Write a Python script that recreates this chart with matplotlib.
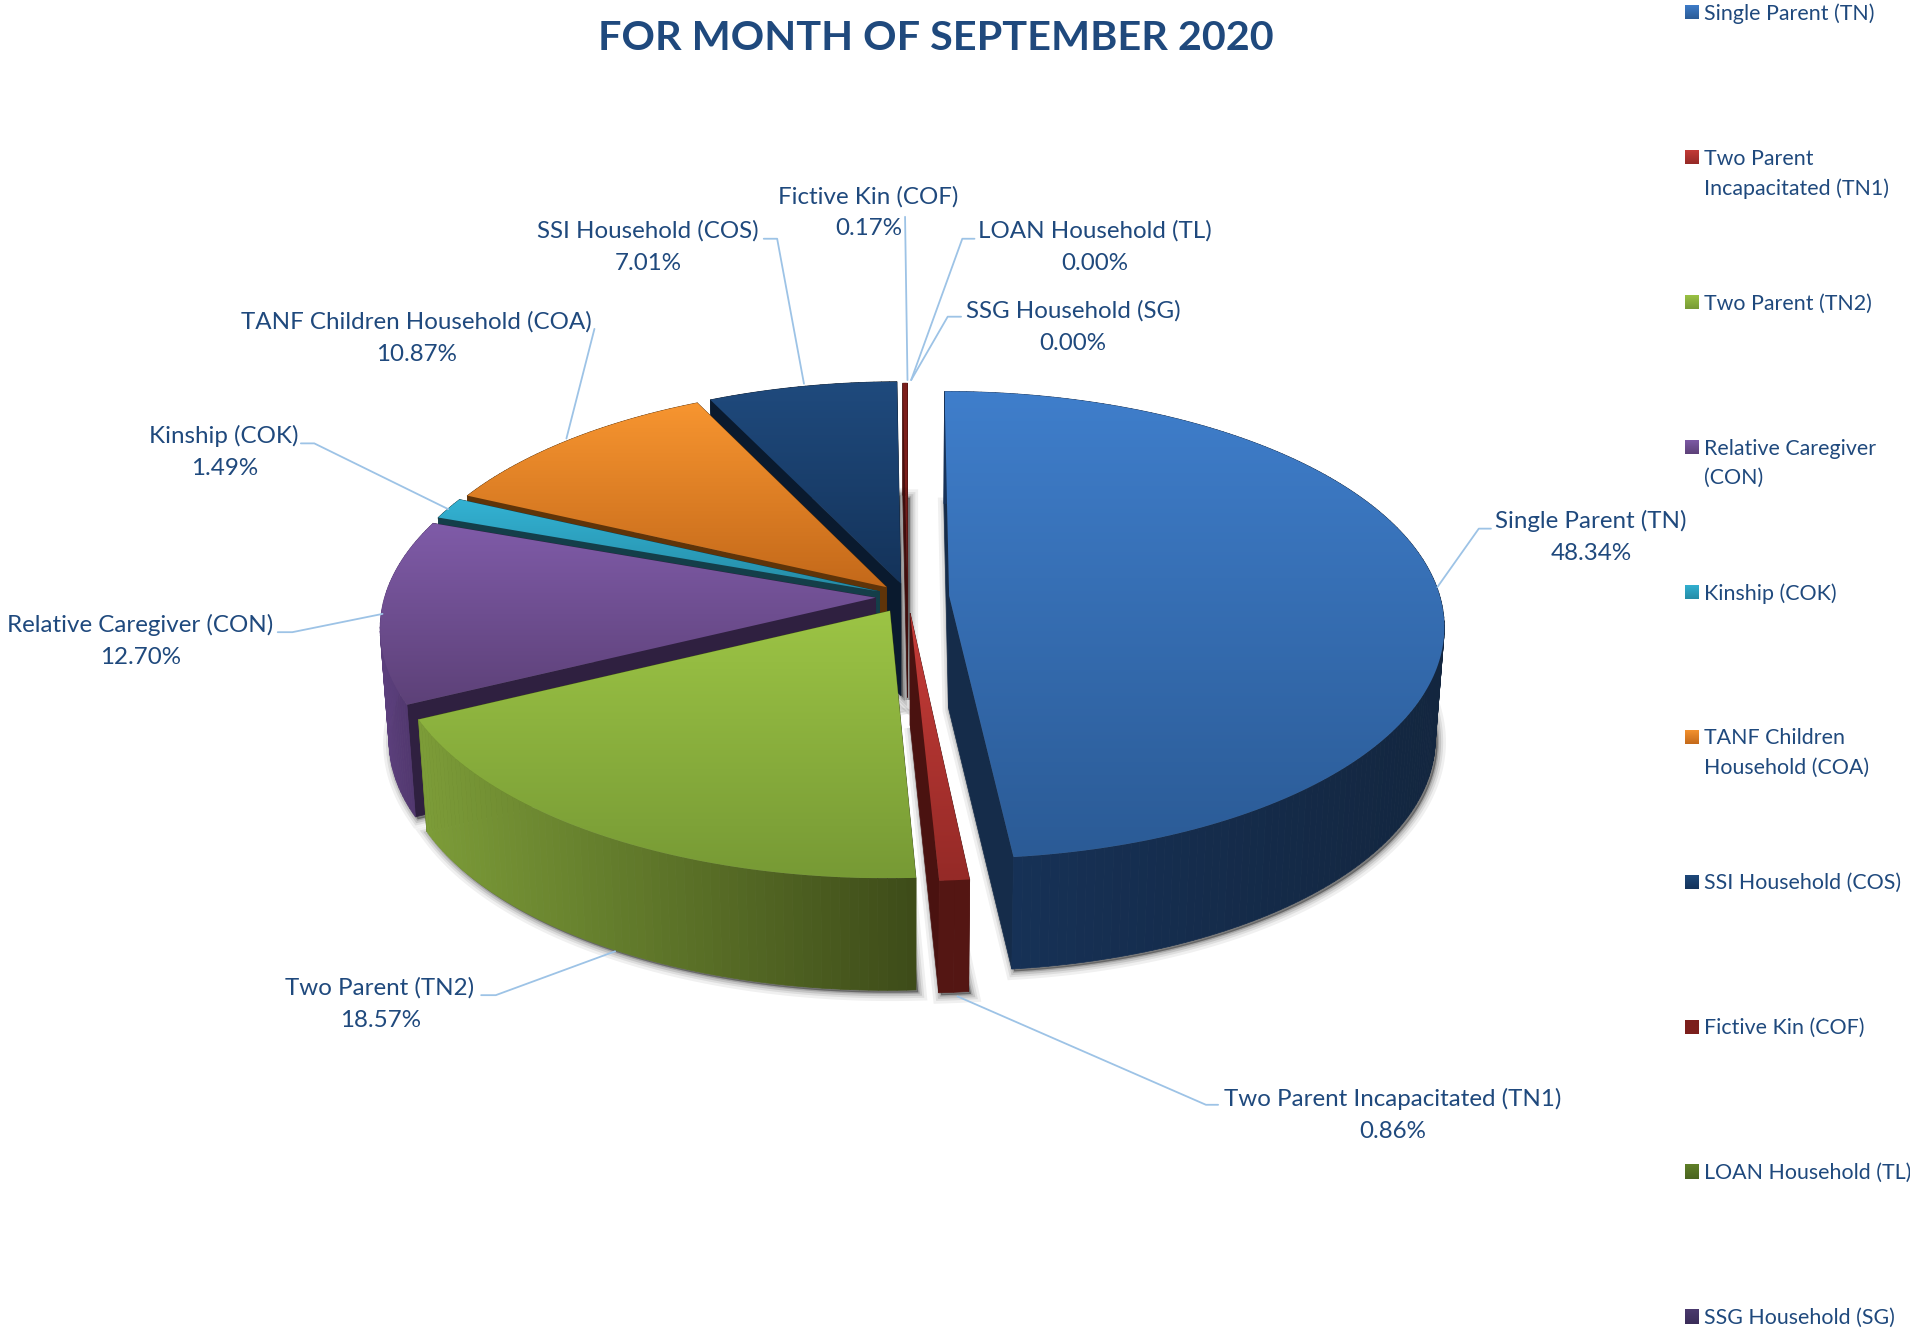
#!/usr/bin/env python3
"""Exploded 3D pie, household types for September 2020."""
import matplotlib
matplotlib.use('Agg')
import matplotlib.pyplot as plt
from matplotlib.collections import PolyCollection
from matplotlib.colors import to_rgb
from matplotlib.patches import Polygon
import numpy as np

plt.rcParams['font.family'] = ['Lato', 'DejaVu Sans']

TITLE = 'FOR MONTH OF SEPTEMBER 2020'
names = ['Single Parent (TN)', 'Two Parent Incapacitated (TN1)', 'Two Parent (TN2)',
         'Relative Caregiver (CON)', 'Kinship (COK)', 'TANF Children Household (COA)',
         'SSI Household (COS)', 'Fictive Kin (COF)', 'LOAN Household (TL)', 'SSG Household (SG)']
legend_names = ['Single Parent (TN)', 'Two Parent\nIncapacitated (TN1)', 'Two Parent (TN2)',
                'Relative Caregiver\n(CON)', 'Kinship (COK)', 'TANF Children\nHousehold (COA)',
                'SSI Household (COS)', 'Fictive Kin (COF)', 'LOAN Household (TL)', 'SSG Household (SG)']
pct = [48.34, 0.86, 18.57, 12.70, 1.49, 10.87, 7.01, 0.17, 0.00, 0.00]

# style per slice: top face light/dark, rim left/right, cut face
top_light = ['#3f7ecb', '#c63c38', '#9cc445', '#7f5ba8', '#33b2d3', '#f79530', '#1f4a7d', '#7c1f1c', '#5f7f28', '#4b3a6e']
top_dark = ['#2b5b96', '#952a27', '#779a35', '#5d4178', '#258ca6', '#c4691a', '#14335a', '#7c1f1c', '#4a6420', '#3a2c58']
rim_left = ['#17335a', '#541613', '#7c9c38', '#5b3f7c', '#143e49', '#5f3409', '#0a1a2e', '#4a1210', '#000000', '#000000']
rim_right = ['#13263f', '#541613', '#3e4c19', '#4a3265', '#143e49', '#5f3409', '#0a1a2e', '#4a1210', '#000000', '#000000']
cut = ['#152c4a', '#4a1210', '#3e4c19', '#2f2040', '#143e49', '#5f3409', '#0a1a2e', '#4a1210', '#000000', '#000000']
explode = [0.085, 0.07, 0.07, 0.065, 0.062, 0.06, 0.06, 0.05, 0, 0]
draw_order = [7, 6, 5, 4, 0, 3, 2, 1]

# label centres and leader paths, in the 1568x1096 frame of the axes
label_xy = [(1306, 441), (1143, 915), (312, 824.5), (115, 526.5), (184, 371),
            (342, 277.5), (532, 203), (713, 174.5), (899, 203), (881, 268.5)]
leaders = [[(1180, 482), (1214, 434), (1224, 434)], [(786, 818), (990, 907), (1000, 907)],
           [(505, 781), (407, 817), (395, 817)], [(314, 504), (240, 519), (228, 519)],
           [(368, 418), (258, 364), (247, 364)], [(465, 360), (488, 270)],
           [(660, 315), (638, 196), (627, 196)], [(745, 312), (743, 178)],
           [(748, 312), (790, 196), (800, 196)], [(748, 312), (778, 260), (789, 260)]]
legend_y = [10, 129, 248, 367, 486, 605, 724, 843, 962, 1081]

CX, CY, RX, RY, K, DEPTH, BASE = 745, 490, 403, 189, 0.125, 92, 0.983
TEXT = '#1F497D'
LEADER = '#9DC3E6'


def project(u, v):
    w = 1 / (1 + K * v)
    return CX + RX * u * w, CY - RY * v * w


def lower(x, y):
    return CX + (x - CX) * BASE, y + DEPTH


def ramp(c1, c2, n=64):
    a, b = np.array(to_rgb(c1)), np.array(to_rgb(c2))
    return a + (b - a) * np.linspace(0, 1, n)[:, None]


def grad_poly(ax, xy, c1, c2, z):
    xy = np.asarray(xy)
    img = ramp(c1, c2)[:, None, :]
    ext = [xy[:, 0].min(), xy[:, 0].max(), xy[:, 1].max(), xy[:, 1].min()]
    im = ax.imshow(img, extent=ext, aspect='auto', zorder=z, interpolation='bilinear')
    im.set_clip_path(Polygon(xy, closed=True, transform=ax.transData))


fig = plt.figure(figsize=(19.10, 13.35), dpi=100)
ax = fig.add_axes([0, 0, 1, 1])

ends = np.cumsum(pct) / sum(pct) * 2 * np.pi
starts = np.concatenate([[0], ends[:-1]])
z = 2
for i in draw_order:
    mid = (starts[i] + ends[i]) / 2
    ou, ov = explode[i] * np.sin(mid), explode[i] * np.cos(mid)
    th = np.linspace(starts[i], ends[i], max(3, int((ends[i] - starts[i]) * 60)))
    ax_, ay_ = project(ou, ov)
    arc = np.array([project(ou + np.sin(t), ov + np.cos(t)) for t in th])
    low = np.array([lower(x, y) for x, y in arc])
    apex_low = lower(ax_, ay_)
    top = np.vstack([[ax_, ay_], arc])
    base = np.vstack([apex_low, low])

    # soft shadow under the base
    for lw, alpha in [(12, 0.06), (8, 0.08), (5, 0.11), (2, 0.16)]:
        ax.add_patch(Polygon(base + [2, 2], closed=True, facecolor=(0, 0, 0, alpha),
                             edgecolor=(0, 0, 0, alpha), lw=lw, zorder=z))
    z += 1

    # cut faces
    for corner, corner_low in [(arc[0], low[0]), (arc[-1], low[-1])]:
        ax.add_patch(Polygon([(ax_, ay_), corner, corner_low, apex_low], closed=True,
                             facecolor=cut[i], edgecolor=cut[i], lw=0.5, zorder=z))
        z += 1

    # outer rim
    quads = [[arc[j], arc[j + 1], low[j + 1], low[j]] for j in range(len(arc) - 1)]
    mids = np.array([q[0][0] for q in quads])
    span = max(mids.max() - mids.min(), 1)
    cols = ramp(rim_left[i], rim_right[i], 256)[((mids - mids.min()) / span * 255).astype(int)]
    ax.add_collection(PolyCollection(quads, facecolors=cols, edgecolors=cols, linewidths=0.5, zorder=z))
    z += 1

    # top face
    grad_poly(ax, top, top_light[i], top_dark[i], z)
    z += 1

z = 100
for path in leaders:
    xs, ys = zip(*path)
    ax.plot(xs, ys, color=LEADER, lw=1.3, zorder=z, solid_capstyle='round')

for name, p, (x, y) in zip(names, pct, label_xy):
    ax.text(x, y, f'{name}\n{p:.2f}%', ha='center', va='center', color=TEXT, fontsize=17.4,
            linespacing=1.65, zorder=z)

for i, (name, y) in enumerate(zip(legend_names, legend_y)):
    sq = [(1383, y - 6), (1395, y - 6), (1395, y + 6), (1383, y + 6)]
    grad_poly(ax, sq, top_light[i], top_dark[i], z)
    ax.text(1399, y - 7, name, ha='left', va='top', color=TEXT, fontsize=15.4,
            linespacing=1.6, zorder=z)

ax.text(768, 32, TITLE, ha='center', va='center', color=TEXT, fontsize=29.8, fontweight='bold', zorder=z)

ax.set_xlim(0, 1568)
ax.set_ylim(1096, 0)
ax.axis('off')
fig.savefig('out.png', dpi=100)
